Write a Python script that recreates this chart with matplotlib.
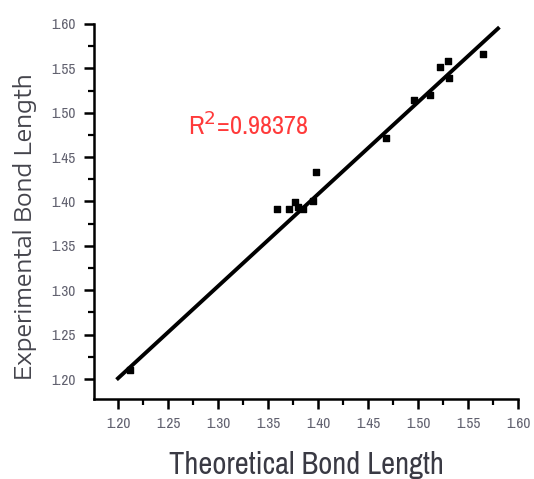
import numpy as np
import matplotlib
matplotlib.use('Agg')
import matplotlib.pyplot as plt
from matplotlib.ticker import MultipleLocator, FormatStrFormatter

plt.rcParams['font.family'] = ['Archivo Narrow', 'Liberation Sans', 'DejaVu Sans']

# Theoretical vs experimental bond lengths
theoretical = [1.212, 1.359, 1.371, 1.377, 1.380, 1.385, 1.395, 1.398,
               1.468, 1.496, 1.512, 1.522, 1.530, 1.531, 1.565]
experimental = [1.210, 1.392, 1.392, 1.399, 1.394, 1.392, 1.400, 1.433,
                1.472, 1.514, 1.520, 1.552, 1.558, 1.539, 1.566]

# Fitted line as drawn in the figure
fit_slope = 1.037
fit_intercept = -0.0436
fit_x = [1.20, 1.58]
r2_label = 'R$^2$=0.98378'

fig = plt.figure(figsize=(5.34, 4.79), dpi=100)
ax = fig.add_axes([0.176, 0.167, 0.794, 0.783])

fx = np.array(fit_x)
ax.plot(fx, fit_slope * fx + fit_intercept, color='black', lw=2.8, zorder=2)
ax.scatter(theoretical, experimental, marker='s', s=22, color='black', zorder=3)

ax.text(1.270, 1.486, r2_label, color='#ff3a3a', fontsize=19, va='center', ha='left')

ax.set_xlim(1.176, 1.60)
ax.set_ylim(1.1775, 1.60)
ax.spines['top'].set_visible(False)
ax.spines['right'].set_visible(False)
for s in ('left', 'bottom'):
    ax.spines[s].set_linewidth(1.8)

ax.xaxis.set_major_locator(MultipleLocator(0.05))
ax.xaxis.set_minor_locator(MultipleLocator(0.025))
ax.yaxis.set_major_locator(MultipleLocator(0.05))
ax.yaxis.set_minor_locator(MultipleLocator(0.025))
ax.xaxis.set_major_formatter(FormatStrFormatter('%.2f'))
ax.yaxis.set_major_formatter(FormatStrFormatter('%.2f'))
ax.tick_params(which='major', direction='out', length=7, width=1.8,
               labelsize=11, labelcolor='#60606e', pad=6)
ax.tick_params(which='minor', direction='out', length=4, width=1.6)

ax.set_xlabel('Theoretical Bond Length', fontsize=22, color='#3a3a44', labelpad=14)
ax.set_ylabel('Experimental Bond Length', fontsize=16.5, color='#44444c',
              family=['Encode Sans Expanded', 'DejaVu Sans'])
ax.yaxis.set_label_coords(-0.135, 0.46)

plt.savefig('out.png', dpi=100)
plt.close()
